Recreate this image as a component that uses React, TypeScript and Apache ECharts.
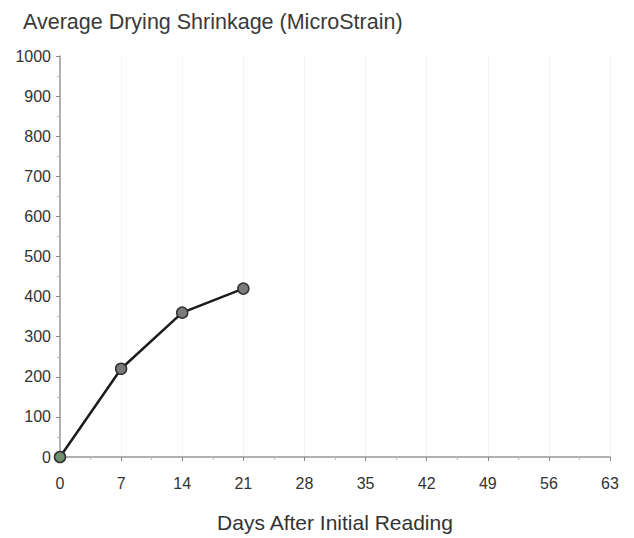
import React, { useEffect, useRef } from "react";
import * as echarts from "echarts";

const days = [0, 7, 14, 21];
const shrinkage = [0, 220, 360, 420];
const xTicks = [0, 7, 14, 21, 28, 35, 42, 49, 56, 63];

export default function App() {
  const ref = useRef<HTMLDivElement>(null);
  useEffect(() => {
    document.body.style.margin = "0";
    const chart = echarts.init(ref.current!, null, { renderer: "svg" });
    const font = "Liberation Sans, Arial, sans-serif";
    chart.setOption({
      animation: false,
      backgroundColor: "#ffffff",
      title: {
        text: "Average Drying Shrinkage (MicroStrain)",
        left: 18,
        top: 6,
        textStyle: { fontFamily: font, fontSize: 21.5, fontWeight: "normal", color: "#3a3a3a" },
      },
      grid: { left: 60, right: 24, top: 56, bottom: 79 },
      xAxis: {
        type: "value",
        min: 0,
        max: 63,
        interval: 7,
        name: "Days After Initial Reading",
        nameLocation: "middle",
        nameGap: 55,
        nameTextStyle: { fontFamily: font, fontSize: 21, color: "#333" },
        axisLine: { lineStyle: { color: "#999", width: 1.5 } },
        axisTick: { show: true, length: 4, inside: false, lineStyle: { color: "#888" } },
        minorTick: { show: true, splitNumber: 2, length: 3, lineStyle: { color: "#bbb" } },
        axisLabel: {
          fontFamily: font,
          fontSize: 16,
          color: "#333",
          margin: 18,
          formatter: (v: number) => (xTicks.includes(v) ? String(v) : ""),
        },
        splitLine: { show: true, lineStyle: { color: "#f4f4f4", width: 1 } },
      },
      yAxis: {
        type: "value",
        min: 0,
        max: 1000,
        interval: 100,
        axisLine: { show: true, lineStyle: { color: "#999", width: 1.5 } },
        axisTick: { show: true, length: 4, lineStyle: { color: "#888" } },
        minorTick: { show: true, splitNumber: 2, length: 3, lineStyle: { color: "#bbb" } },
        axisLabel: {
          fontFamily: font,
          fontSize: 16,
          color: "#333",
          margin: 9,
          formatter: (v: number) => String(v),
        },
        splitLine: { show: false },
      },
      series: [
        {
          type: "line",
          data: days.map((d, i) => [d, shrinkage[i]]),
          symbol: "circle",
          symbolSize: 11,
          lineStyle: { color: "#1c1c1c", width: 2.5 },
          itemStyle: {
            color: (p: any) => (p.dataIndex === 0 ? "#6f8f6f" : "#7a7a7a"),
            borderColor: "#333",
            borderWidth: 1.5,
          },
        },
      ],
    });
    return () => chart.dispose();
  }, []);
  return <div ref={ref} style={{ width: 634, height: 538 }} />;
}
